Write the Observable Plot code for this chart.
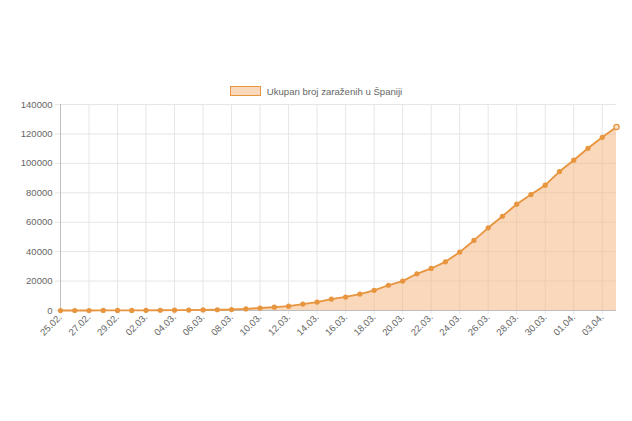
<!DOCTYPE html>
<html>
<head>
<meta charset="utf-8">
<script src="https://cdn.jsdelivr.net/npm/d3@7"></script>
<script src="https://cdn.jsdelivr.net/npm/@observablehq/plot@0.6"></script>
<style>
  html, body { margin: 0; padding: 0; background: #fff; }
  body { width: 632px; height: 421px; overflow: hidden; font-family: "Liberation Sans", Arial, sans-serif; }
  #legend { height: 96px; box-sizing: border-box; padding-top: 86px; display: flex; justify-content: center; align-items: flex-start; }
  #legend .box { width: 29px; height: 8px; border: 1.5px solid #e8953f; background: rgba(245,178,122,0.5); margin-right: 6px; }
  #legend .txt { font-size: 9.6px; color: #666; line-height: 11px; margin-top: 0px; }
</style>
</head>
<body>
<div id="legend"><div class="box"></div><div class="txt">Ukupan broj zaraženih u Španiji</div></div>
<div id="chart"></div>
<script>
const labels = [
  "25.02.","26.02.","27.02.","28.02.","29.02.",
  "01.03.","02.03.","03.03.","04.03.","05.03.","06.03.","07.03.","08.03.","09.03.","10.03.",
  "11.03.","12.03.","13.03.","14.03.","15.03.","16.03.","17.03.","18.03.","19.03.","20.03.",
  "21.03.","22.03.","23.03.","24.03.","25.03.","26.03.","27.03.","28.03.","29.03.","30.03.","31.03.",
  "01.04.","02.04.","03.04.","04.04."
];
const values = [
  6, 13, 15, 32, 45,
  84, 120, 165, 222, 259, 400, 500, 673, 1073, 1695,
  2277, 2950, 4334, 5753, 7753, 9191, 11178, 13716, 17147, 19980,
  24926, 28572, 33089, 39673, 47610, 56188, 64059, 72248, 78797, 85195, 94417,
  102136, 110238, 117710, 124736
];
const yTicks = [0, 20000, 40000, 60000, 80000, 100000, 120000, 140000];
const xTickLabels = labels.filter((d, i) => i % 2 === 0);

const data = labels.map((label, i) => ({label, value: values[i]}));
const last = data.slice(-1);
const rest = data.slice(0, -1);

const lineColor = "#e8953f";
const gridColor = "#e6e6e6";

const chart = Plot.plot({
  width: 632,
  height: 325,
  marginLeft: 60,
  marginRight: 16,
  marginTop: 8,
  marginBottom: 111,
  style: {fontFamily: "'Liberation Sans', Arial, sans-serif", fontSize: "9.5px", color: "#666", background: "#fff", overflow: "visible"},
  x: {type: "point", domain: labels, padding: 0, round: false},
  y: {domain: [0, 140000]},
  marks: [
    Plot.ruleY(yTicks, {stroke: gridColor}),
    Plot.ruleX(xTickLabels, {stroke: gridColor}),
    Plot.axisY({ticks: yTicks, tickSize: 5, tickPadding: 3, tickFormat: d3.format("d"), stroke: gridColor, fill: "#666", label: null}),
    Plot.axisX({ticks: xTickLabels, tickRotate: -45, tickSize: 4, tickPadding: 1, stroke: gridColor, fill: "#666", label: null}),
    Plot.ruleX([labels[0]], {stroke: "#bfbfbf"}),
    Plot.areaY(data, {x: "label", y: "value", fill: "#f5b27a", fillOpacity: 0.5}),
    Plot.ruleY([0], {stroke: "#bfbfbf"}),
    Plot.lineY(data, {x: "label", y: "value", stroke: lineColor, strokeWidth: 1.8}),
    Plot.dot(rest, {x: "label", y: "value", r: 2.6, fill: lineColor}),
    Plot.dot(last, {x: "label", y: "value", r: 2.6, fill: "#fbe3cc", stroke: lineColor, strokeWidth: 1.3})
  ]
});
document.getElementById("chart").appendChild(chart);
</script>
</body>
</html>
